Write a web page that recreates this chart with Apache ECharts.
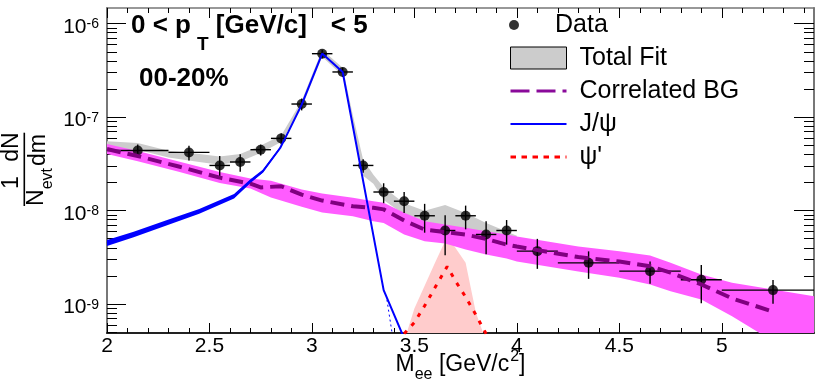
<!DOCTYPE html>
<html>
<head>
<meta charset="utf-8">
<script src="https://cdn.jsdelivr.net/npm/echarts@6.0.0/dist/echarts.min.js"></script>
<style>
  html, body { margin: 0; padding: 0; background: #fff; }
  #chart { width: 830px; height: 388px; }
</style>
</head>
<body>
<div id="chart"></div>
<script>
const FONT = 'Liberation Sans, Arial, Helvetica, sans-serif';

// measured points (Data) with bin half-widths and errors
const dataX = [2.15, 2.4, 2.55, 2.65, 2.75, 2.85, 2.95, 3.05, 3.15, 3.25, 3.35, 3.45, 3.55, 3.65, 3.75, 3.85, 3.95, 4.1, 4.35, 4.65, 4.9, 5.25];
const dataY = [4.40e-8, 4.19e-8, 3.04e-8, 3.31e-8, 4.48e-8, 5.92e-8, 1.38e-7, 4.77e-7, 3.04e-7, 3.04e-8, 1.58e-8, 1.26e-8, 8.8e-9, 6.12e-9, 8.8e-9, 5.55e-9, 6.12e-9, 3.68e-9, 2.76e-9, 2.25e-9, 1.82e-9, 1.41e-9];
const dataXErr = [0.15, 0.1, 0.05, 0.05, 0.05, 0.05, 0.05, 0.05, 0.05, 0.05, 0.05, 0.05, 0.05, 0.05, 0.05, 0.05, 0.05, 0.1, 0.15, 0.15, 0.1, 0.25];
const dataYErr = [0.7e-8, 0.75e-8, 0.8e-8, 0.7e-8, 0.6e-8, 0.8e-8, 0.2e-7, 0.5e-7, 0.35e-7, 0.5e-8, 0.38e-8, 0.32e-8, 0.3e-8, 2.8e-9, 2.5e-9, 2.15e-9, 1.8e-9, 1.3e-9, 0.9e-9, 0.6e-9, 0.8e-9, 0.4e-9];

// total fit band (grey)
const fitX = [2.0, 2.15, 2.3, 2.45, 2.55, 2.65, 2.75, 2.85, 2.95, 3.05, 3.15, 3.2, 3.25, 3.3, 3.35, 3.45, 3.55, 3.65, 3.75, 3.85, 3.95, 4.0];
const fitHi = [5.52e-8, 5.28e-8, 4.37e-8, 4.03e-8, 3.80e-8, 4.03e-8, 4.98e-8, 6.37e-8, 1.50e-7, 5.27e-7, 3.38e-7, 1.04e-7, 3.50e-8, 2.42e-8, 1.78e-8, 1.20e-8, 9.95e-9, 1.15e-8, 9.40e-9, 7.35e-9, 5.97e-9, 5.37e-9];
const fitLo = [4.70e-8, 4.48e-8, 3.70e-8, 3.31e-8, 3.09e-8, 3.35e-8, 4.13e-8, 5.41e-8, 1.26e-7, 4.43e-7, 2.77e-7, 7.70e-8, 2.36e-8, 1.94e-8, 1.30e-8, 9.02e-9, 7.59e-9, 6.54e-9, 5.93e-9, 5.37e-9, 4.87e-9, 4.41e-9];

// correlated background: central curve and band
const bgX = [2.0, 2.15, 2.35, 2.55, 2.7, 2.75, 2.85, 2.95, 3.05, 3.2, 3.3, 3.35, 3.45, 3.55, 3.65, 3.75, 3.85, 3.95, 4.0, 4.3, 4.5, 4.65, 4.75, 4.9, 5.05, 5.25];
const bgY = [4.55e-8, 3.83e-8, 2.96e-8, 2.25e-8, 1.94e-8, 1.77e-8, 1.82e-8, 1.48e-8, 1.28e-8, 1.11e-8, 1.07e-8, 1.03e-8, 7.82e-9, 6.26e-9, 5.89e-9, 5.54e-9, 4.96e-9, 4.33e-9, 4.12e-9, 3.18e-9, 2.85e-9, 2.54e-9, 2.17e-9, 1.62e-9, 1.15e-9, 8.3e-10];
const bgBandX = [2.0, 2.15, 2.35, 2.55, 2.7, 2.8, 2.95, 3.05, 3.2, 3.3, 3.35, 3.45, 3.55, 3.65, 3.75, 3.85, 3.95, 4.0, 4.3, 4.5, 4.65, 4.75, 4.9, 5.05, 5.25, 5.45];
const bgBandHi = [5.14e-8, 4.33e-8, 3.34e-8, 2.58e-8, 2.2e-8, 2.09e-8, 1.68e-8, 1.52e-8, 1.37e-8, 1.26e-8, 1.21e-8, 9.45e-9, 7.68e-9, 7.09e-9, 6.53e-9, 6.0e-9, 5.54e-9, 5.27e-9, 4.12e-9, 3.67e-9, 3.3e-9, 2.76e-9, 2.07e-9, 1.69e-9, 1.43e-9, 1.21e-9];
const bgBandLo = [4.02e-8, 3.38e-8, 2.61e-8, 1.97e-8, 1.72e-8, 1.38e-8, 1.10e-8, 9.52e-9, 8.69e-9, 7.68e-9, 7.38e-9, 5.54e-9, 4.69e-9, 4.44e-9, 3.83e-9, 3.38e-9, 3.07e-9, 2.85e-9, 2.23e-9, 1.91e-9, 1.62e-9, 1.37e-9, 1.12e-9, 7.4e-10, 4.0e-10, 3.0e-10];

// J/psi curve, its band and the dotted tail
const jpsiX = [2.0, 2.13, 2.29, 2.45, 2.62, 2.7, 2.76, 2.845, 2.886, 2.95, 3.05, 3.15, 3.35, 3.45];
const jpsiY = [4.49e-9, 5.54e-9, 7.38e-9, 9.83e-9, 1.42e-8, 2.06e-8, 2.62e-8, 4.67e-8, 7.03e-8, 1.36e-7, 4.78e-7, 3.04e-7, 1.41e-9, 4.3e-10];
const jpsiBandX = [2.0, 2.13, 2.29, 2.45, 2.62, 2.7, 2.76, 2.845];
const jpsiBandHi = [4.83e-9, 5.93e-9, 7.87e-9, 1.04e-8, 1.5e-8, 2.16e-8, 2.73e-8, 4.82e-8];
const jpsiBandLo = [4.17e-9, 5.17e-9, 6.93e-9, 9.26e-9, 1.35e-8, 1.97e-8, 2.54e-8, 4.55e-8];
const jpsiTailX = [3.366, 3.393];
const jpsiTailY = [1.11e-9, 4.6e-10];

// psi' curve and band
const psi2X = [3.45, 3.5, 3.55, 3.6, 3.66, 3.7, 3.75, 3.8, 3.85];
const psi2Y = [4.8e-10, 6.37e-10, 9.57e-10, 1.49e-9, 2.52e-9, 1.77e-9, 1.19e-9, 7.66e-10, 4.8e-10];
const psi2BandHi = [4.0e-10, 8.97e-10, 1.57e-9, 2.75e-9, 5.28e-9, 4.0e-9, 2.76e-9, 8.1e-10, 4.0e-10];
const psi2BandLo = [3e-10, 3e-10, 3e-10, 3e-10, 3e-10, 3e-10, 3e-10, 3e-10, 3e-10];

// axis ticks
const xMajor = [2, 2.5, 3, 3.5, 4, 4.5, 5];
const xMinor = [2.1, 2.2, 2.3, 2.4, 2.6, 2.7, 2.8, 2.9, 3.1, 3.2, 3.3, 3.4, 3.6, 3.7, 3.8, 3.9, 4.1, 4.2, 4.3, 4.4, 4.6, 4.7, 4.8, 4.9, 5.1, 5.2, 5.3, 5.4];
const yMajor = [1e-9, 1e-8, 1e-7, 1e-6];
const yMinor = [5e-10, 6e-10, 7e-10, 8e-10, 9e-10,
  2e-9, 3e-9, 4e-9, 5e-9, 6e-9, 7e-9, 8e-9, 9e-9,
  2e-8, 3e-8, 4e-8, 5e-8, 6e-8, 7e-8, 8e-8, 9e-8,
  2e-7, 3e-7, 4e-7, 5e-7, 6e-7, 7e-7, 8e-7, 9e-7];

const X_MIN = 2, X_MAX = 5.45, Y_MIN = 4.9e-10, Y_MAX = 1.47e-6;

const pairs = (xs, ys) => xs.map((x, i) => [x, ys[i]]);

// filled band between lo and hi, drawn as one polygon
function band(name, xs, lo, hi, color) {
  return {
    type: 'custom',
    name: name,
    clip: true,
    silent: true,
    encode: { x: 0, y: 1 },
    data: [[xs[0], hi[0]]],
    renderItem: function (params, api) {
      const pts = [];
      for (let i = 0; i < xs.length; i++) pts.push(api.coord([xs[i], hi[i]]));
      for (let i = xs.length - 1; i >= 0; i--) pts.push(api.coord([xs[i], lo[i]]));
      return { type: 'polygon', shape: { points: pts }, style: { fill: color } };
    }
  };
}

function xAxisDef(pos, values, len, extra) {
  return Object.assign({
    type: 'value', position: pos, min: X_MIN, max: X_MAX,
    axisLine: { show: false },
    axisTick: { show: true, inside: true, length: len, customValues: values, lineStyle: { color: '#000', width: 1 } },
    axisLabel: { show: false },
    splitLine: { show: false }
  }, extra || {});
}
function yAxisDef(pos, values, len, extra) {
  return Object.assign({
    type: 'log', position: pos, min: Y_MIN, max: Y_MAX, logBase: 10,
    axisLine: { show: false },
    axisTick: { show: true, inside: true, length: len, customValues: values, lineStyle: { color: '#000', width: 1 } },
    axisLabel: { show: false },
    splitLine: { show: false }
  }, extra || {});
}

const chart = echarts.init(document.getElementById('chart'), null, { renderer: 'canvas' });

const option = {
  animation: false,
  backgroundColor: '#fff',
  grid: { left: 107, right: 16, top: 8, bottom: 55, containLabel: false, outerBoundsMode: 'none' },
  title: [
    {
      text: '{a|0 < p}{s|T}{a| [GeV/c]}{c|< 5}',
      left: 131, top: 13, padding: 0,
      textStyle: {
        rich: {
          a: { fontFamily: FONT, fontSize: 26, fontWeight: 'bold', color: '#000', lineHeight: 34, verticalAlign: 'top' },
          s: { fontFamily: FONT, fontSize: 19, fontWeight: 'bold', color: '#000', lineHeight: 19, verticalAlign: 'top', padding: [22, 0, 0, 6] },
          c: { fontFamily: FONT, fontSize: 26, fontWeight: 'bold', color: '#000', lineHeight: 34, verticalAlign: 'top', padding: [0, 0, 0, 24] }
        }
      }
    },
    {
      text: '00-20%',
      left: 139, top: 62, padding: 0,
      textStyle: { fontFamily: FONT, fontSize: 26, fontWeight: 'bold', color: '#000', lineHeight: 34 }
    }
  ],
  legend: [
    {
      data: [{ name: 'Data', icon: 'circle', itemStyle: { color: '#000' } }],
      left: 509, top: 12.5, padding: 0,
      itemWidth: 56, itemHeight: 10,
      selectedMode: false,
      textStyle: { fontFamily: FONT, fontSize: 25, color: '#000', padding: [0, 0, 0, 8] }
    },
    {
      orient: 'vertical',
      data: [
        { name: 'Total Fit', icon: 'rect', itemStyle: { color: '#cccccc', borderColor: '#000', borderWidth: 1 } },
        { name: 'Correlated BG', itemStyle: { opacity: 0 }, lineStyle: { color: '#8a0a9a', width: 3, type: [19, 7] } },
        { name: 'J/ψ', itemStyle: { opacity: 0 }, lineStyle: { color: '#0000ff', width: 2, type: 'solid' } },
        { name: "ψ'", itemStyle: { opacity: 0 }, lineStyle: { color: '#ff0000', width: 3, type: [5.5, 5.5] } }
      ],
      left: 509, top: 45.5, padding: 0,
      itemWidth: 56, itemHeight: 22, itemGap: 8,
      selectedMode: false,
      textStyle: { fontFamily: FONT, fontSize: 25, color: '#000', padding: [0, 0, 0, 8] }
    }
  ],
  xAxis: [
    xAxisDef('bottom', xMajor, 10, {
      axisLine: { show: true, onZero: false, lineStyle: { color: '#222', width: 2 } },
      axisLabel: { show: true, customValues: xMajor, margin: 3, fontFamily: FONT, fontSize: 21, color: '#000' },
      name: '{m|M}{s|ee}{m| [GeV/c}{p|2}{m|]}',
      nameLocation: 'middle',
      nameGap: 16,
      nameMoveOverlap: false,
      nameTextStyle: {
        rich: {
          m: { fontFamily: FONT, fontSize: 23, color: '#000', lineHeight: 30, verticalAlign: 'top', padding: [4, 0, 0, 0] },
          s: { fontFamily: FONT, fontSize: 16, color: '#000', lineHeight: 16, verticalAlign: 'top', padding: [18, 0, 0, 0] },
          p: { fontFamily: FONT, fontSize: 16, color: '#000', lineHeight: 16, verticalAlign: 'top', padding: [0, 0, 0, 1] }
        }
      }
    }),
    xAxisDef('bottom', xMinor, 5),
    xAxisDef('top', xMajor, 10, { axisLine: { show: true, onZero: false, lineStyle: { color: '#777', width: 1.5 } } }),
    xAxisDef('top', xMinor, 5)
  ],
  yAxis: [
    yAxisDef('left', yMajor, 19, {
      axisLine: { show: true, onZero: false, lineStyle: { color: '#777', width: 2 } },
      axisLabel: {
        show: true, customValues: yMajor, margin: 8,
        formatter: function (v) { return '{b|10}{e|' + Math.round(Math.log10(v)) + '}'; },
        rich: {
          b: { fontFamily: FONT, fontSize: 21, color: '#000', lineHeight: 26, verticalAlign: 'top', padding: [6, 0, 0, 0] },
          e: { fontFamily: FONT, fontSize: 14, color: '#000', lineHeight: 14, verticalAlign: 'top', padding: [7, 0, 0, 0] }
        }
      }
    }),
    yAxisDef('left', yMinor, 10),
    yAxisDef('right', yMajor, 20, { axisLine: { show: true, onZero: false, lineStyle: { color: '#777', width: 2 } } }),
    yAxisDef('right', yMinor, 10)
  ],
  graphic: [
    {
      type: 'group', x: 24.3, y: 170, rotation: Math.PI / 2,
      children: [
        { type: 'line', shape: { x1: -36, y1: 0, x2: 37.3, y2: 0 }, style: { stroke: '#000', lineWidth: 1.6 } },
        { type: 'text', x: -12.5, y: -12.7, style: { text: '1', font: '23px ' + FONT, fill: '#000', align: 'center', verticalAlign: 'middle' } },
        { type: 'text', x: 23, y: -12.7, style: { text: 'dN', font: '23px ' + FONT, fill: '#000', align: 'center', verticalAlign: 'middle' } },
        {
          type: 'text', x: -17, y: 16,
          style: {
            text: '{n|N}{s|evt}', align: 'center', verticalAlign: 'middle',
            rich: {
              n: { fontFamily: FONT, fontSize: 23, fill: '#000', lineHeight: 30, verticalAlign: 'top' },
              s: { fontFamily: FONT, fontSize: 16, fill: '#000', lineHeight: 16, verticalAlign: 'top', padding: [14, 0, 0, 0] }
            }
          }
        },
        { type: 'text', x: 20, y: 14.3, style: { text: 'dm', font: '23px ' + FONT, fill: '#000', align: 'center', verticalAlign: 'middle' } }
      ]
    }
  ],
  series: [
    band('Total Fit', fitX, fitLo, fitHi, '#cccccc'),
    band('psi2 band', psi2X, psi2BandLo, psi2BandHi, '#ffcccc'),
    band('bg band', bgBandX, bgBandLo, bgBandHi, '#ff5cff'),
    band('jpsi band', jpsiBandX, jpsiBandLo, jpsiBandHi, '#0000ff'),
    {
      type: 'line', name: 'Correlated BG', data: pairs(bgX, bgY), symbol: 'none',
      itemStyle: { color: '#800080' },
      lineStyle: { color: '#800080', width: 4, type: [14, 7] }
    },
    {
      type: 'line', name: 'J/ψ', data: pairs(jpsiX, jpsiY), symbol: 'none',
      itemStyle: { color: '#0000ff' },
      lineStyle: { color: '#0000ff', width: 2 }
    },
    {
      type: 'line', name: 'jpsi tail', data: pairs(jpsiTailX, jpsiTailY), symbol: 'none',
      lineStyle: { color: '#0000ff', width: 1, type: [2, 3] }
    },
    {
      type: 'line', name: "ψ'", data: pairs(psi2X, psi2Y), symbol: 'none',
      itemStyle: { color: '#ff0000' },
      lineStyle: { color: '#ff0000', width: 3, type: [4, 7] }
    },
    {
      type: 'custom', name: 'Data errors', clip: true, silent: true,
      encode: { x: 0, y: 1 },
      data: dataX.map((x, i) => [x, dataY[i], dataXErr[i], dataYErr[i]]),
      renderItem: function (params, api) {
        const x = api.value(0), y = api.value(1), xe = api.value(2), ye = api.value(3);
        const l = api.coord([x - xe, y]), r = api.coord([x + xe, y]);
        const t = api.coord([x, y + ye]), b = api.coord([x, y - ye]);
        const st = { stroke: '#000', lineWidth: 1.4 };
        return {
          type: 'group',
          children: [
            { type: 'line', shape: { x1: l[0], y1: l[1], x2: r[0], y2: r[1] }, style: st },
            { type: 'line', shape: { x1: t[0], y1: t[1], x2: b[0], y2: b[1] }, style: st }
          ]
        };
      }
    },
    {
      type: 'scatter', name: 'Data', data: pairs(dataX, dataY),
      symbol: 'circle', symbolSize: 10,
      itemStyle: { color: '#000' }
    }
  ]
};

chart.setOption(option);
</script>
</body>
</html>
